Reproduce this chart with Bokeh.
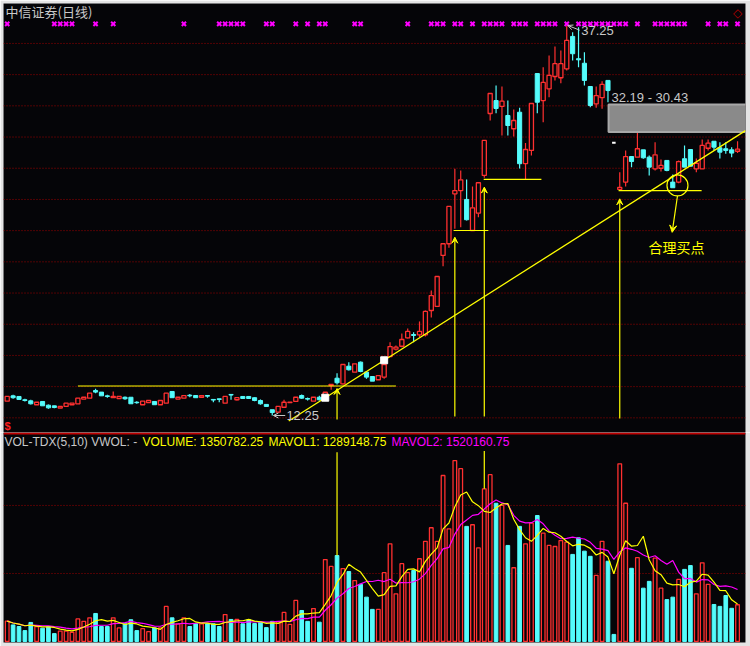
import numpy as np
import pandas as pd
from bokeh.plotting import figure
from bokeh.layouts import column
from bokeh.models import Label, Span, Arrow, VeeHead, OpenHead, Range1d
from bokeh.embed import file_html
from bokeh.resources import INLINE

# ---------------- data ----------------
opens = [13.17,13.51,13.47,13.26,13.19,12.94,13.15,12.91,12.87,12.73,
         12.83,12.94,13.00,13.30,13.36,13.85,13.75,13.51,13.39,13.34,
         13.42,13.42,13.10,12.94,13.08,13.15,12.94,13.04,13.79,13.30,
         13.36,13.55,13.53,13.42,13.53,13.28,13.32,13.04,13.60,13.26,
         13.47,13.47,13.39,13.21,12.96,12.62,12.46,12.78,13.08,13.15,
         13.53,13.34,13.17,13.42,13.42,14.17,14.64,14.28,15.41,15.03,
         15.67,15.03,14.75,14.54,14.71,16.03,16.50,16.69,17.23,17.44,
         17.42,17.42,18.98,19.24,22.51,23.26,26.46,26.67,26.10,24.11,
         25.22,27.64,31.61,32.44,32.06,31.48,30.63,31.69,28.40,29.24,
         34.17,32.44,33.19,33.98,33.90,34.47,36.55,35.12,34.83,33.34,
         32.23,32.62,33.73,29.73,26.74,27.21,28.85,28.81,29.28,28.81,
         28.06,28.10,28.60,27.21,27.21,28.71,29.30,28.06,28.06,29.38,
         29.83,29.41,29.35,29.28,29.19]
highs = [13.47,13.58,13.47,13.32,13.26,13.10,13.15,12.96,12.89,12.83,
         13.04,13.04,13.36,13.42,13.68,13.96,13.75,13.58,13.79,13.47,
         13.47,13.42,13.17,13.17,13.21,13.15,13.21,13.68,13.79,13.42,
         13.53,13.62,13.53,13.53,13.53,13.28,13.32,13.47,13.60,13.42,
         13.47,13.50,13.42,13.28,12.96,12.62,12.83,13.26,13.10,13.42,
         13.60,13.40,13.42,13.51,13.74,14.24,14.96,15.52,15.67,15.56,
         15.71,15.09,14.75,14.80,15.56,16.95,16.74,17.51,17.83,17.59,
         18.28,18.98,20.26,21.16,23.26,25.65,28.06,27.96,27.38,26.93,
         27.17,29.88,32.89,33.40,33.34,32.44,31.87,31.97,29.71,32.25,
         34.17,34.58,35.33,35.90,35.65,37.25,36.82,37.14,35.54,33.34,
         33.34,33.68,33.73,29.73,27.85,29.24,28.85,30.52,29.28,28.92,
         29.77,28.66,28.60,27.70,28.60,29.56,29.30,28.72,29.94,29.94,
         29.83,29.77,29.77,29.45,29.83]
lows = [13.17,13.32,13.26,13.15,12.96,12.94,12.87,12.68,12.71,12.73,
        12.83,12.94,13.00,13.30,13.36,13.68,13.51,13.39,13.39,13.34,
        13.26,13.00,13.00,12.94,13.08,12.94,12.94,13.04,13.39,13.30,
        13.36,13.42,13.39,13.42,13.39,13.10,13.10,13.04,13.26,13.21,
        13.34,13.30,13.17,12.94,12.83,12.25,12.46,12.78,13.08,13.15,
        13.30,13.21,13.17,13.21,13.42,13.90,14.24,14.24,15.14,15.03,
        15.03,14.60,14.45,14.54,14.60,16.03,16.42,16.63,17.19,16.95,
        17.27,17.32,18.53,19.24,21.82,23.00,24.22,24.32,24.75,24.11,
        24.96,27.49,31.16,31.63,30.20,30.20,30.14,28.08,27.36,28.92,
        31.63,31.05,32.65,33.73,33.55,34.37,35.01,34.58,33.40,32.01,
        31.97,31.91,32.33,29.73,26.74,26.93,28.17,28.81,28.71,27.64,
        27.96,27.89,27.91,26.85,27.14,28.17,28.23,27.85,28.06,29.24,
        29.24,28.72,29.03,28.81,29.07]
closes = [13.47,13.39,13.28,13.21,13.00,13.10,12.87,12.74,12.76,12.83,
          13.04,13.04,13.36,13.42,13.68,13.75,13.51,13.47,13.47,13.47,
          13.32,13.00,13.07,13.17,13.21,12.94,13.21,13.68,13.39,13.42,
          13.53,13.51,13.39,13.53,13.49,13.24,13.28,13.47,13.56,13.39,
          13.34,13.34,13.21,13.00,12.83,12.44,12.83,13.10,13.10,13.42,
          13.36,13.30,13.42,13.26,13.74,14.24,14.35,15.52,15.18,15.56,
          15.07,14.71,14.45,14.80,15.52,16.67,16.63,17.12,17.64,17.38,
          17.64,18.92,19.94,21.16,23.26,25.65,26.67,27.36,24.80,25.56,
          27.17,29.88,32.89,31.93,32.40,30.84,31.16,28.39,29.30,32.25,
          32.33,33.60,34.05,34.80,34.80,36.29,35.44,35.05,33.73,32.12,
          32.76,33.47,33.08,29.73,26.87,28.85,28.53,29.35,28.77,28.17,
          28.96,28.28,27.96,26.85,28.53,28.17,28.23,28.42,29.56,29.71,
          29.45,29.13,29.24,29.07,29.32]
volumes = [0.75,0.61,0.55,0.40,0.70,0.55,0.49,0.55,0.29,0.38,
           0.38,0.34,0.83,0.74,0.87,1.03,0.55,0.55,0.87,0.50,
           0.65,0.80,0.40,0.47,0.36,0.50,0.50,1.29,0.87,0.65,
           0.87,0.55,0.65,0.65,0.65,0.65,0.55,0.99,0.81,0.81,
           0.65,0.80,0.66,0.71,0.51,0.74,0.72,1.07,0.63,1.51,
           1.14,0.74,1.21,0.71,3.01,2.76,3.16,2.68,2.57,2.24,
           2.10,1.63,1.18,1.18,2.53,3.59,1.75,2.86,2.53,2.61,
           3.04,3.68,4.18,3.68,6.10,4.14,6.65,6.35,4.23,4.29,
           3.44,5.61,6.13,5.08,5.00,3.53,2.71,4.23,3.59,4.35,
           4.63,3.98,3.53,3.49,3.71,3.65,3.20,3.81,3.32,3.13,
           2.43,3.68,2.95,0.26,6.53,5.08,2.69,3.08,1.96,2.21,
           3.06,1.96,1.54,1.63,2.28,2.65,2.79,1.75,2.89,2.10,
           1.36,1.29,1.69,1.22,1.35]

# markers on top row (signal days)
signal_days = [0, 8, 9, 10, 11, 15, 18, 30, 36, 37, 38, 39, 40, 44, 45, 49, 51,
               53, 54, 59, 60, 68, 72, 73, 74, 76, 77, 79, 81, 82, 83, 84, 86,
               87, 88, 90, 91, 92, 93, 95, 97, 98, 99, 100, 101, 102, 103, 104,
               105, 107, 110, 111, 112, 113, 114, 115, 119, 121, 122, 124]

grid_prices = [12.1 + 2 * k for k in range(13)]
vol_grid = [2.5, 5.0]

# annotations drawn by the analyst
trend_pts_x = [54, 64]
trend_pts_y = [13.39, 15.79]
hlines = [(12, 66, 14.14), (75.8, 81.7, 24.11), (80.9, 90.7, 27.38), (103.8, 117.9, 26.67)]
vlines = [(56, 12.0, 13.98), (76, 12.19, 23.68), (81, 12.19, 26.89), (104, 12.05, 26.14)]
zone_hi, zone_lo = 32.19, 30.43
buy_day, buy_price = 113.8, 27.0
high_price, low_price = 37.25, 12.25
high_day, low_day = 95, 45

header = [("VOL-TDX(5,10) VWOL: -", -0.46), ("VOLUME: 1350782.25", 22.97),
          ("MAVOL1: 1289148.75", 44.36), ("MAVOL2: 1520160.75", 65.25)]

# ---------------- styling ----------------
RED = "#FF3030"
CYAN = "#54FCFC"
YEL = "#FFFF00"
MAG = "#FF00FF"
GRAY = "#C8C8C8"
BG = "#050508"
EDGE = "#E4E4E4"

W = 750
XR = Range1d(-0.63, 125.35)

df = pd.DataFrame(dict(i=np.arange(len(opens)), o=opens, h=highs, l=lows,
                       c=closes, v=volumes))
df["top"] = df[["o", "c"]].max(axis=1)
df["bot"] = df[["o", "c"]].min(axis=1)
up = df[df.c > df.o]
dn = df[df.c < df.o]
flat = df[df.c == df.o]

p = figure(width=W, height=432, x_range=XR, y_range=Range1d(11.16, 38.66),
           output_backend="svg", toolbar_location=None,
           min_border_left=3, min_border_right=5, min_border_top=3, min_border_bottom=0,
           x_axis_location=None, y_axis_location=None,
           background_fill_color=BG, border_fill_color=EDGE, outline_line_color=None)
p.grid.visible = False

for g in grid_prices:
    p.add_layout(Span(location=g, dimension="width", line_color="#A00000",
                      line_dash="1 2", line_width=1, level="underlay"))

# candles
for d, col in ((up, RED), (dn, CYAN)):
    p.segment(x0=d.i, y0=d.h, x1=d.i, y1=d.top, line_color=col, line_width=1.2)
    p.segment(x0=d.i, y0=d.bot, x1=d.i, y1=d.l, line_color=col, line_width=1.2)
p.vbar(x=up.i, width=0.7, top=up.top, bottom=up.bot, fill_color=BG, line_color=RED, line_width=1.3)
p.vbar(x=dn.i, width=0.7, top=dn.top, bottom=dn.bot, fill_color=CYAN, line_color=CYAN, line_width=1)
p.segment(x0=flat.i - 0.3, y0=flat.c, x1=flat.i + 0.3, y1=flat.c, line_color="white", line_width=2)

# zone box
p.quad(left=[102.1], right=[XR.end + 2], top=[zone_hi], bottom=[zone_lo],
       fill_color="#8a8a8a", line_color="#a8a8a8", line_width=2)

# signal markers
p.scatter(x=signal_days, y=[37.35] * len(signal_days), marker="x", size=6,
          line_color=MAG, line_width=2)

# trend line
slope = (trend_pts_y[1] - trend_pts_y[0]) / (trend_pts_x[1] - trend_pts_x[0])
tx0, tx1 = 47.8, XR.end
p.line(x=[tx0, tx1], y=[trend_pts_y[0] + (tx0 - trend_pts_x[0]) * slope,
                        trend_pts_y[0] + (tx1 - trend_pts_x[0]) * slope],
       line_color=YEL, line_width=1.3)
p.scatter(x=trend_pts_x, y=trend_pts_y, marker="square", size=7,
          fill_color="white", line_color="white")

for x0, x1, yv in hlines:
    p.line(x=[x0, x1], y=[yv, yv], line_color=YEL, line_width=1.2)
for xv, y0, y1 in vlines:
    p.add_layout(Arrow(end=VeeHead(size=6, fill_color=YEL, line_color=YEL),
                       x_start=xv, y_start=y0, x_end=xv, y_end=y1,
                       line_color=YEL, line_width=1.2))

# buy point circle and arrow
p.scatter(x=[buy_day], y=[buy_price], marker="circle", size=21, fill_alpha=0,
          line_color=YEL, line_width=1.2)
p.add_layout(Arrow(end=VeeHead(size=7, fill_color=YEL, line_color=YEL),
                   x_start=buy_day, y_start=buy_price - 0.68,
                   x_end=buy_day - 0.9, y_end=23.99, line_color=YEL, line_width=1.2))
p.add_layout(Label(x=108.9, y=23.02, text="合理买点", text_color=YEL,
                   text_font="Noto Sans CJK SC", text_font_size="14px",
                   text_baseline="middle", text_align="left"))

# high / low labels
p.add_layout(Arrow(end=OpenHead(size=5, line_color=GRAY, line_width=1),
                   x_start=high_day + 2.2, y_start=high_price - 0.3,
                   x_end=high_day + 0.2, y_end=high_price, line_color=GRAY, line_width=1))
p.add_layout(Label(x=high_day + 2.45, y=high_price - 0.3, text=f"{high_price:.2f}",
                   text_color=GRAY, text_font="Liberation Sans", text_font_size="13px",
                   text_baseline="middle", text_align="left"))
p.add_layout(Arrow(end=OpenHead(size=5, line_color=GRAY, line_width=1),
                   x_start=low_day + 2.2, y_start=low_price, x_end=low_day + 0.2,
                   y_end=low_price, line_color=GRAY, line_width=1))
p.add_layout(Label(x=low_day + 2.4, y=low_price + 0.03, text=f"{low_price:.2f}",
                   text_color=GRAY, text_font="Liberation Sans", text_font_size="13px",
                   text_baseline="middle", text_align="left"))
p.add_layout(Label(x=102.6, y=zone_hi + 0.45, text=f"{zone_hi:.2f} - {zone_lo:.2f}",
                   text_color=GRAY, text_font="Liberation Sans", text_font_size="13px",
                   text_baseline="middle", text_align="left"))

# titles in main panel
p.add_layout(Label(x=-0.29, y=38.15, text="中信证券(日线)", text_color=GRAY,
                   text_font="Noto Sans CJK SC", text_font_size="13px",
                   text_baseline="middle", text_align="left"))
p.add_layout(Label(x=-0.46, y=11.22, text="$", text_color="#FF2020",
                   text_font="Liberation Sans", text_font_style="bold",
                   text_font_size="11px", text_baseline="bottom", text_align="left"))
p.add_layout(Label(x=124.0, y=38.08, text="◇", text_color="#B00000",
                   text_font="DejaVu Sans", text_font_size="12px",
                   text_baseline="middle", text_align="center"))

# ---------------- volume panel ----------------
pv = figure(width=W, height=214, x_range=XR, y_range=Range1d(-0.037, 7.68),
            output_backend="svg", toolbar_location=None,
            min_border_left=3, min_border_right=5, min_border_top=0, min_border_bottom=4,
            x_axis_location=None, y_axis_location=None,
            background_fill_color=BG, border_fill_color=EDGE, outline_line_color=None)
pv.grid.visible = False
for g in vol_grid:
    pv.add_layout(Span(location=g, dimension="width", line_color="#A00000",
                       line_dash="1 2", line_width=1, level="underlay"))
pv.add_layout(Span(location=7.64, dimension="width", line_color="#C00000", line_width=2))

vup = df[df.c > df.o]
vdn = df[df.c <= df.o]
pv.vbar(x=vup.i, width=0.62, top=vup.v, bottom=0, fill_color=BG, line_color=RED, line_width=1.3)
pv.vbar(x=vdn.i, width=0.62, top=vdn.v, bottom=0, fill_color=CYAN, line_color=CYAN, line_width=1)

ma5 = df.v.rolling(5, min_periods=1).mean()
ma10 = df.v.rolling(10, min_periods=1).mean()
pv.line(x=df.i, y=ma10, line_color=MAG, line_width=1.2)
pv.line(x=df.i, y=ma5, line_color=YEL, line_width=1.2)

pv.segment(x0=[56, 81], y0=[volumes[56], volumes[81]], x1=[56, 81], y1=[6.95, 7.0],
           line_color=YEL, line_width=1.2)

for (t, xs), col in zip(header, [GRAY, YEL, YEL, MAG]):
    pv.add_layout(Label(x=xs, y=7.33, text=t, text_color=col, text_font="Liberation Sans",
                        text_font_size="12px", text_baseline="middle", text_align="left"))

layout = column(p, pv, spacing=0)
open("out.html", "w").write(file_html(layout, INLINE))
